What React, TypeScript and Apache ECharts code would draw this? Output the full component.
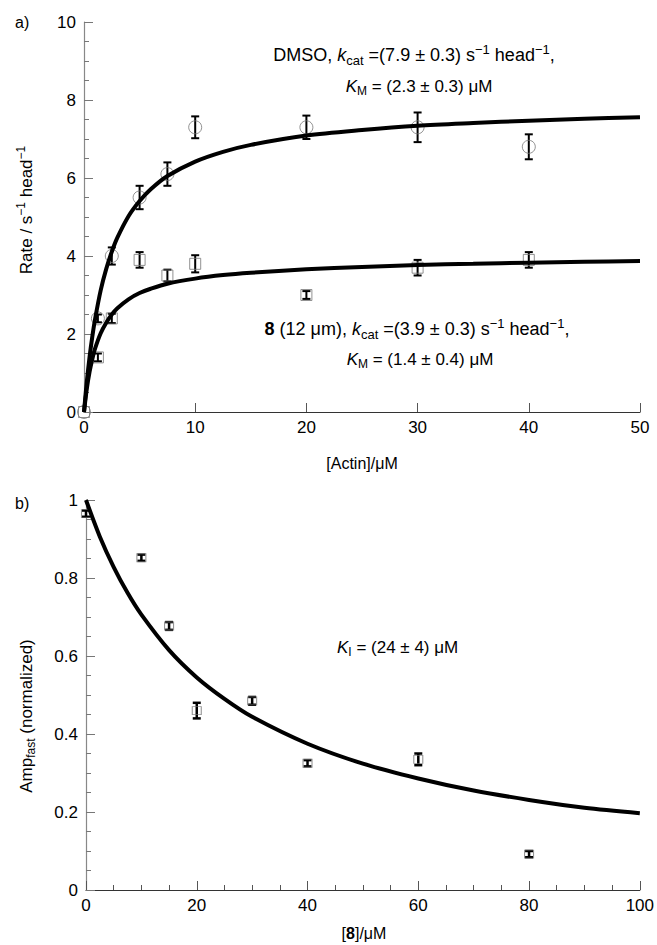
import React, { useEffect, useRef } from 'react';
import * as echarts from 'echarts';

// ---------- data ----------
const actinConc = [0, 1.25, 2.5, 5, 7.5, 10, 20, 30, 40];
const dmsoRate = [0, 2.4, 4.0, 5.5, 6.1, 7.3, 7.3, 7.3, 6.8];
const dmsoErr = [0, 0.1, 0.22, 0.3, 0.3, 0.28, 0.3, 0.38, 0.32];
const cmpd8Rate = [0, 1.4, 2.4, 3.9, 3.5, 3.8, 3.0, 3.7, 3.9];
const cmpd8Err = [0, 0.1, 0.12, 0.2, 0.15, 0.22, 0.1, 0.2, 0.2];

const fitActin = [0, 0.25, 0.5, 0.75, 1, 1.5, 2, 2.5, 3, 4, 5, 6, 7.5, 10, 12.5, 15, 20, 25, 30, 35, 40, 45, 50];
const dmsoFit = [0, 0.77, 1.41, 1.94, 2.39, 3.12, 3.67, 4.11, 4.47, 5.02, 5.41, 5.71, 6.05, 6.42, 6.67, 6.85, 7.09, 7.23, 7.34, 7.41, 7.47, 7.52, 7.56];
const cmpd8Fit = [0, 0.59, 1.03, 1.36, 1.63, 2.02, 2.29, 2.5, 2.66, 2.89, 3.05, 3.16, 3.29, 3.42, 3.51, 3.57, 3.66, 3.72, 3.77, 3.8, 3.83, 3.85, 3.87];

const inhibConc = [0, 10, 15, 20, 30, 40, 60, 80];
const ampFast = [0.965, 0.852, 0.677, 0.46, 0.485, 0.325, 0.335, 0.092];
const ampErr = [0.008, 0.008, 0.01, 0.02, 0.01, 0.008, 0.015, 0.008];

const fitInhib = [0, 2.5, 5, 7.5, 10, 15, 20, 25, 30, 40, 50, 60, 70, 80, 90, 100];
const ampFit = [1, 0.906, 0.828, 0.762, 0.706, 0.615, 0.545, 0.49, 0.444, 0.375, 0.324, 0.286, 0.255, 0.231, 0.211, 0.197];

const FF = '"Liberation Sans", Arial, Helvetica, sans-serif';

const zip = (xs: number[], ys: number[]) => xs.map((x, i) => [x, ys[i]]);
const zip3 = (xs: number[], ys: number[], es: number[]) =>
  xs.map((x, i) => [x, ys[i], es[i]]).filter((d) => d[2] > 0);

const errorBarItem = (capHalf: number, lw: number) => (_params: any, api: any) => {
  const x = api.value(0);
  const y = api.value(1);
  const e = api.value(2);
  const lo = api.coord([x, y - e]);
  const hi = api.coord([x, y + e]);
  const style = { stroke: '#000', lineWidth: lw };
  return {
    type: 'group',
    children: [
      { type: 'line', shape: { x1: hi[0], y1: hi[1], x2: lo[0], y2: lo[1] }, style },
      { type: 'line', shape: { x1: hi[0] - capHalf, y1: hi[1], x2: hi[0] + capHalf, y2: hi[1] }, style },
      { type: 'line', shape: { x1: lo[0] - capHalf, y1: lo[1], x2: lo[0] + capHalf, y2: lo[1] }, style },
    ],
  };
};

const makeRich = (fs: number): any => ({
  n: { fontSize: fs, fontFamily: FF, color: '#000' },
  i: { fontSize: fs, fontFamily: FF, fontStyle: 'italic', color: '#000' },
  b: { fontSize: fs, fontFamily: FF, fontWeight: 'bold', color: '#000' },
  sub: { fontSize: Math.round(fs * 0.72), fontFamily: FF, color: '#000', padding: [Math.round(fs * 0.55), 0, 0, 0] },
  sup: { fontSize: Math.round(fs * 0.72), fontFamily: FF, color: '#000', padding: [0, 0, Math.round(fs * 0.6), 0] },
  mu: { fontSize: Math.round(fs * 0.9), fontFamily: FF, color: '#000' },
});

const txt = (text: string, x: number, y: number, fs: number, align = 'left', rotation = 0) => ({
  type: 'text',
  x,
  y,
  rotation,
  style: {
    text,
    rich: makeRich(fs),
    fontSize: fs,
    fontFamily: FF,
    fill: '#000',
    align,
    verticalAlign: 'middle',
    textAlign: align,
    textVerticalAlign: 'middle',
  },
});

const yAxisCommon = {
  type: 'value',
  axisLine: { show: true, lineStyle: { color: '#888', width: 1.2 } },
  axisTick: { show: true, inside: true, length: 9, lineStyle: { color: '#777', width: 1 } },
  minorTick: { show: true, splitNumber: 4, length: 5, lineStyle: { color: '#777', width: 1 } },
  axisLabel: { color: '#000', fontSize: 17, fontFamily: FF, margin: 8 },
  splitLine: { show: false },
};

const xAxisCommon = {
  type: 'value',
  axisLine: { show: true, onZero: false, lineStyle: { color: '#333', width: 1.2 } },
  axisTick: { show: true, inside: true, length: 9, lineStyle: { color: '#555', width: 1 } },
  axisLabel: { color: '#000', fontSize: 17, fontFamily: FF, margin: 7 },
  splitLine: { show: false },
};

const option: any = {
  animation: false,
  backgroundColor: '#fff',
  grid: [
    { left: 84, top: 22, width: 556, height: 390 },
    { left: 86, top: 500, width: 556, height: 390 },
  ],
  xAxis: [
    { ...xAxisCommon, gridIndex: 0, min: 0, max: 50, interval: 10 },
    {
      ...xAxisCommon,
      gridIndex: 1,
      min: 0,
      max: 100,
      interval: 20,
      minorTick: { show: true, splitNumber: 4, length: 5, lineStyle: { color: '#555', width: 1 } },
    },
  ],
  yAxis: [
    { ...yAxisCommon, gridIndex: 0, min: 0, max: 10, interval: 2 },
    { ...yAxisCommon, gridIndex: 1, min: 0, max: 1, interval: 0.2 },
  ],
  series: [
    {
      type: 'scatter',
      xAxisIndex: 0,
      yAxisIndex: 0,
      symbol: 'circle',
      symbolSize: 13,
      itemStyle: { color: 'rgba(0,0,0,0)', borderColor: '#777', borderWidth: 1 },
      data: zip(actinConc, dmsoRate),
    },
    {
      type: 'scatter',
      xAxisIndex: 0,
      yAxisIndex: 0,
      symbol: 'rect',
      symbolSize: 11,
      itemStyle: { color: 'rgba(0,0,0,0)', borderColor: '#777', borderWidth: 1 },
      data: zip(actinConc, cmpd8Rate),
    },
    {
      type: 'custom',
      xAxisIndex: 0,
      yAxisIndex: 0,
      renderItem: errorBarItem(4, 2),
      encode: { x: 0, y: 1 },
      data: zip3(actinConc, dmsoRate, dmsoErr),
    },
    {
      type: 'custom',
      xAxisIndex: 0,
      yAxisIndex: 0,
      renderItem: errorBarItem(4, 2),
      encode: { x: 0, y: 1 },
      data: zip3(actinConc, cmpd8Rate, cmpd8Err),
    },
    {
      type: 'line',
      xAxisIndex: 0,
      yAxisIndex: 0,
      showSymbol: false,
      smooth: 0.3,
      lineStyle: { color: '#000', width: 4 },
      data: zip(fitActin, dmsoFit),
    },
    {
      type: 'line',
      xAxisIndex: 0,
      yAxisIndex: 0,
      showSymbol: false,
      smooth: 0.3,
      lineStyle: { color: '#000', width: 4 },
      data: zip(fitActin, cmpd8Fit),
    },
    {
      type: 'scatter',
      xAxisIndex: 1,
      yAxisIndex: 1,
      symbol: 'rect',
      symbolSize: [9, 8],
      itemStyle: { color: 'rgba(0,0,0,0)', borderColor: '#777', borderWidth: 1 },
      data: zip(inhibConc, ampFast),
    },
    {
      type: 'custom',
      xAxisIndex: 1,
      yAxisIndex: 1,
      renderItem: errorBarItem(4, 2.5),
      encode: { x: 0, y: 1 },
      data: zip3(inhibConc, ampFast, ampErr),
    },
    {
      type: 'line',
      xAxisIndex: 1,
      yAxisIndex: 1,
      showSymbol: false,
      smooth: 0.3,
      lineStyle: { color: '#000', width: 4 },
      data: zip(fitInhib, ampFit),
    },
  ],
  graphic: [
    txt('{n|a)}', 15, 22, 16),
    txt('{n|b)}', 15, 503, 16),
    txt('{n|Rate / s}{sup|−1}{n| head}{sup|−1}', 26, 210, 17, 'center', Math.PI / 2),
    txt('{n|Amp}{sub|fast}{n| (normalized)}', 26, 716, 17, 'center', Math.PI / 2),
    txt('{n|[Actin]/μM}', 362, 463, 16, 'center'),
    txt('{n|[}{b|8}{n|]/μM}', 364, 933, 16, 'center'),
    txt('{n|DMSO, }{i|k}{sub|cat}{n| =(7.9 ± 0.3) s}{sup|−1}{n| head}{sup|−1}{n|,}', 414, 55, 18, 'center'),
    txt('{i|K}{sub|M}{n| = (2.3 ± 0.3) μM}', 419, 86, 17, 'center'),
    txt('{b|8}{n| (12 μm), }{i|k}{sub|cat}{n| =(3.9 ± 0.3) s}{sup|−1}{n| head}{sup|−1}{n|,}', 417, 329, 18, 'center'),
    txt('{i|K}{sub|M}{n| = (1.4 ± 0.4) μM}', 420, 359, 17, 'center'),
    txt('{i|K}{sub|I}{n| = (24 ± 4) μM}', 337, 647, 17, 'left'),
  ],
};

export default function App() {
  const ref = useRef<HTMLDivElement>(null);
  useEffect(() => {
    const chart = echarts.init(ref.current!, null, { renderer: 'svg' });
    chart.setOption(option);
    return () => chart.dispose();
  }, []);
  return (
    <div
      ref={ref}
      style={{ position: 'fixed', left: 0, top: 0, width: 657, height: 945, background: '#fff' }}
    />
  );
}
